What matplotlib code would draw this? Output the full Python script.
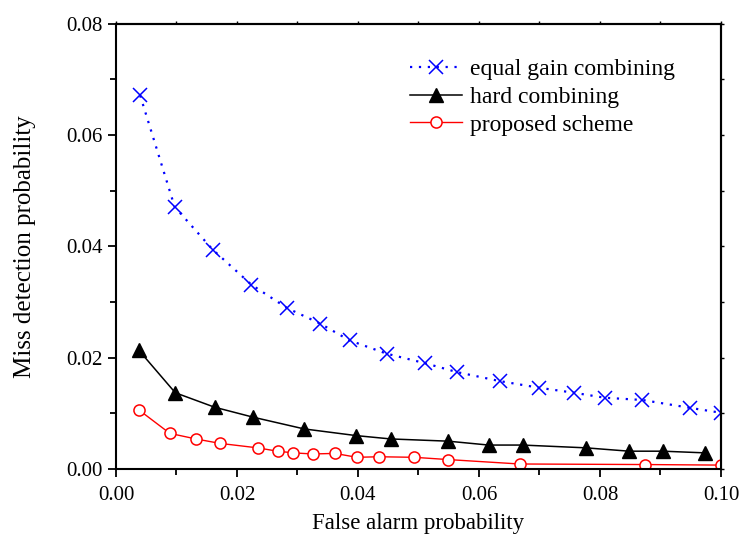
import matplotlib
matplotlib.use("Agg")
import matplotlib.pyplot as plt
from matplotlib.ticker import MultipleLocator, FormatStrFormatter, NullFormatter

plt.rcParams['font.family'] = ['Liberation Serif', 'DejaVu Serif']
plt.rcParams['mathtext.fontset'] = 'stix'

# equal gain combining
egc_x = [0.0040, 0.0097, 0.0160, 0.0224, 0.0283, 0.0338, 0.0386, 0.0448,
         0.0511, 0.0564, 0.0634, 0.0699, 0.0757, 0.0808, 0.0870, 0.0948, 0.1000]
egc_y = [0.0671, 0.0471, 0.0394, 0.0331, 0.0289, 0.0261, 0.0231, 0.0207,
         0.0190, 0.0174, 0.0158, 0.0146, 0.0137, 0.0128, 0.0124, 0.0110, 0.0101]

# hard combining
hard_x = [0.0038, 0.0098, 0.0163, 0.0227, 0.0311, 0.0397, 0.0454, 0.0549,
          0.0616, 0.0672, 0.0777, 0.0848, 0.0904, 0.0973]
hard_y = [0.0213, 0.0137, 0.0111, 0.0093, 0.0072, 0.0060, 0.0054, 0.0050,
          0.0043, 0.0043, 0.0038, 0.0032, 0.0032, 0.0029]

# proposed scheme
prop_x = [0.0038, 0.0089, 0.0132, 0.0172, 0.0234, 0.0267, 0.0293, 0.0325,
          0.0362, 0.0398, 0.0435, 0.0493, 0.0548, 0.0667, 0.0875, 0.1000]
prop_y = [0.0106, 0.0064, 0.0054, 0.0046, 0.0038, 0.0032, 0.0029, 0.0027,
          0.0028, 0.0021, 0.0022, 0.0021, 0.0017, 0.0009, 0.0008, 0.0007]

labels = ["equal gain combining", "hard combining", "proposed scheme"]

fig = plt.figure(figsize=(7.41, 5.47), dpi=100)
ax = fig.add_axes([0.1565, 0.1426, 0.8165, 0.8141])

ax.plot(egc_x, egc_y, color='#0000ff', linestyle=(0, (1, 3)), linewidth=1.6,
        marker='x', markersize=10, markeredgewidth=1.1, label=labels[0])
ax.plot(hard_x, hard_y, color='black', linestyle='-', linewidth=1.1,
        marker='^', markersize=9.5, label=labels[1])
ax.plot(prop_x, prop_y, color='#ff0000', linestyle='-', linewidth=1.0,
        marker='o', markersize=8, markerfacecolor='white', markeredgewidth=1.1,
        label=labels[2])

ax.set_xlim(0, 0.1)
ax.set_ylim(0, 0.08)
ax.xaxis.set_major_locator(MultipleLocator(0.02))
ax.xaxis.set_minor_locator(MultipleLocator(0.01))
ax.yaxis.set_major_locator(MultipleLocator(0.02))
ax.yaxis.set_minor_locator(MultipleLocator(0.01))
ax.xaxis.set_major_formatter(FormatStrFormatter('%.2f'))
ax.yaxis.set_major_formatter(FormatStrFormatter('%.2f'))

ax.tick_params(which='major', direction='out', length=6, width=1.3, labelsize=15)
ax.tick_params(which='minor', direction='out', length=4, width=1.3)
ax.tick_params(axis='x', which='major', pad=6)

# tiny ticks on top and right
secx = ax.secondary_xaxis('top')
secx.xaxis.set_major_locator(MultipleLocator(0.01))
secx.xaxis.set_major_formatter(NullFormatter())
secx.tick_params(direction='out', length=2, width=1.0)
secy = ax.secondary_yaxis('right')
secy.yaxis.set_major_locator(MultipleLocator(0.01))
secy.yaxis.set_major_formatter(NullFormatter())
secy.tick_params(direction='out', length=2, width=1.0)
for a in (secx, secy):
    for s in a.spines.values():
        s.set_linewidth(1.5)

for s in ax.spines.values():
    s.set_linewidth(1.5)

ax.set_xlabel("False alarm probability", fontsize=16.5, labelpad=6)
ax.set_ylabel("Miss detection probability", fontsize=18, labelpad=22)

ax.legend(loc='upper left', bbox_to_anchor=(0.486, 0.921), frameon=False,
          fontsize=17, handlelength=2.2, handletextpad=0.35, labelspacing=0.26,
          borderaxespad=0.0, borderpad=0.0)

fig.savefig("out.png", dpi=100)
